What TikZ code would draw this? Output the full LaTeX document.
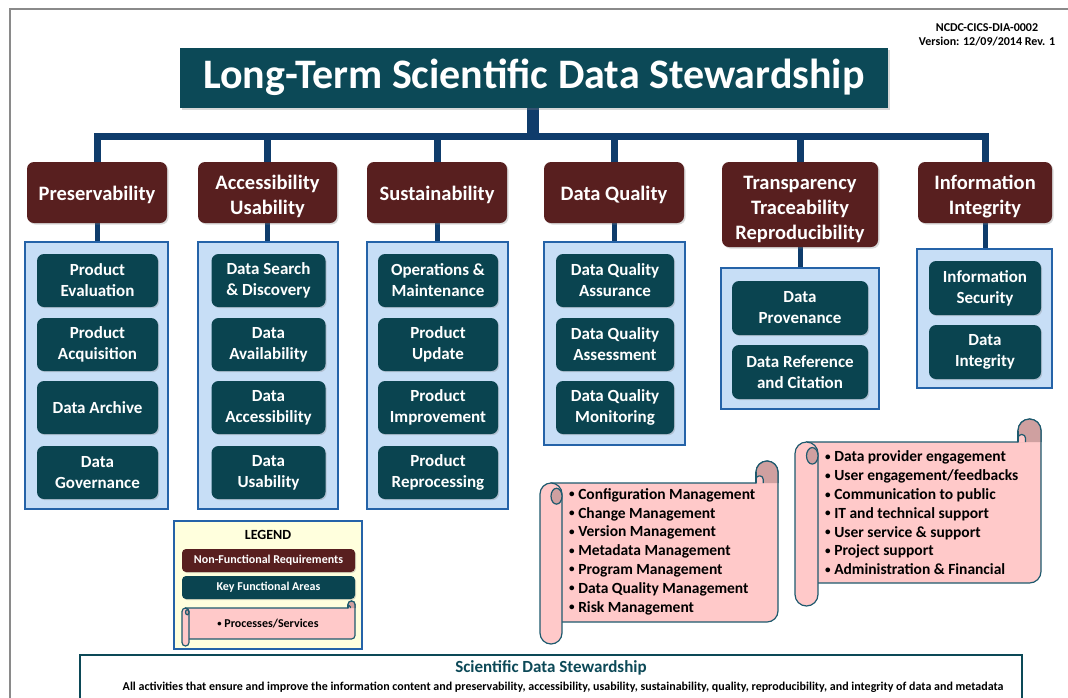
\documentclass[tikz,border=0pt]{standalone}
\usepackage{graphicx}
\usepackage{fontspec}
\setmainfont{Carlito}
\usetikzlibrary{shadows}
\definecolor{brownc}{HTML}{581F1F}
\definecolor{titlec}{HTML}{0C4957}
\definecolor{tealc}{HTML}{0A4450}
\definecolor{navyc}{HTML}{0F3C6B}
\definecolor{lbluec}{HTML}{C7DEF6}
\definecolor{bluec}{HTML}{2563A8}
\definecolor{pinkc}{HTML}{FFC9C9}
\definecolor{curlc}{HTML}{CFA0A0}
\definecolor{scrollb}{HTML}{1E5A6E}
\definecolor{legendc}{HTML}{FFFFDD}
\definecolor{framegray}{HTML}{8A8A8A}
\pgfdeclarelayer{bg}
\pgfsetlayers{bg,main}
\newcommand{\bul}{\raisebox{0.1em}{\scalebox{0.72}{•}}\ }
\newcommand{\cs}{\rule{0pt}{22.5pt}}
\newcommand{\myscroll}[5]{%
  % #1=x0 #2=y0 #3=x1 #4=y1 #5=r
  \filldraw[scrollst] ({#1+#5},#2) -- ({#3-2*#5},#2) -- ({#3-2*#5},{#2-#5})
     arc[start angle=180,end angle=0,radius=#5pt] -- (#3,{#4-#5})
     arc[start angle=0,end angle=-90,radius=#5pt] -- ({#1+#5},#4) -- cycle;
  \fill[curlc] ({#3-2*#5},#2) -- ({#3-2*#5},{#2-#5})
     arc[start angle=180,end angle=0,radius=#5pt] -- (#3,#2) -- cycle;
  \draw[scrollb, line width=1.2pt] ({#3-2*#5},#2) -- ({#3-2*#5},{#2-#5})
     arc[start angle=180,end angle=0,radius=#5pt] -- (#3,#2);
  \filldraw[scrollst, rounded corners=0.3*#5pt] ({#3-2*#5},#2) -- ({#3-2*#5},{#2-0.65*#5}) -- ({#3-1.35*#5},{#2-0.65*#5}) -- ({#3-1.35*#5},#2);
  \draw[scrollb, line width=1.2pt] ({#3-2*#5},#2) -- ({#3-2*#5},{#2-#5});
  \filldraw[scrollst, rounded corners=#5pt] (#1,#2) rectangle ({#1+2*#5},{#4+2*#5});
  \filldraw[scrollst, fill=curlc] ({#1+1.5*#5},{#2+1.2*#5}) ellipse[x radius=0.5*#5pt, y radius=0.72*#5pt];
}
\begin{document}
\begin{tikzpicture}[x=1pt,y=-1pt,
  catbox/.style={fill=brownc, rounded corners=7pt, text=white, align=center, inner sep=0pt,
     font=\fontsize{20.5}{25}\bfseries\selectfont,
     execute at begin node={\rule{0pt}{19.5pt}},
     drop shadow={opacity=0.3, shadow xshift=1.5pt, shadow yshift=-1.5pt}},
  kfabox/.style={fill=tealc, rounded corners=7pt, text=white, align=center, inner sep=0pt,
     font=\fontsize{17}{21}\bfseries\selectfont,
     drop shadow={opacity=0.3, shadow xshift=1.2pt, shadow yshift=-1.2pt}},
  contbox/.style={fill=lbluec, draw=bluec, line width=1.6pt, inner sep=0pt},
  titlebox/.style={fill=titlec, text=white, inner sep=0pt,
     font=\fontsize{42}{48}\bfseries\selectfont,
     drop shadow={opacity=0.3, shadow xshift=2pt, shadow yshift=-2pt}},
  stemline/.style={draw=navyc, line width=12pt},
  busline/.style={draw=navyc, line width=7pt},
  dropline/.style={draw=navyc, line width=5pt},
  scrollst/.style={fill=pinkc, draw=scrollb, line width=1.2pt},
  scrolltext/.style={anchor=west, align=left, inner sep=0pt, text=black,
     font=\fontsize{15.5}{18.8}\bfseries\selectfont},
]
\clip (0,0) rectangle (1068,697);
\begin{pgfonlayer}{bg}
\fill[white] (0,0) rectangle (1068,697);
\end{pgfonlayer}
\draw[framegray, line width=2.5pt] (10,9) rectangle (1100,730);

% header
\node[titlebox, minimum width=708, minimum height=60] (title) at (534,77.5) {Long-Term Scientific Data Stewardship};
\node[align=center, inner sep=0pt, font=\fontsize{12}{14.5}\bfseries\selectfont] (ref) at (987,35) {NCDC-CICS-DIA-0002\\Version: 12/09/2014 Rev. 1};

% categories
\node[catbox, minimum width=140, minimum height=61] (c1) at (97,192.5) {Preservability};
\node[catbox, minimum width=139, minimum height=61] (c2) at (267.5,192.5) {\cs Accessibility\\Usability};
\node[catbox, minimum width=140, minimum height=61] (c3) at (437,192.5) {Sustainability};
\node[catbox, minimum width=140, minimum height=61] (c4) at (614,192.5) {Data Quality};
\node[catbox, minimum width=156, minimum height=85] (c5) at (800,204.5) {\cs Transparency\\Traceability\\Reproducibility};
\node[catbox, minimum width=134, minimum height=61] (c6) at (985,192.5) {\cs Information\\Integrity};

% containers
\node[contbox, minimum width=143, minimum height=267] (k1) at (96.5,375.5) {};
\node[contbox, minimum width=140, minimum height=267] (k2) at (268,375.5) {};
\node[contbox, minimum width=141, minimum height=267] (k3) at (437.5,375.5) {};
\node[contbox, minimum width=141, minimum height=203] (k4) at (614.5,343.5) {};
\node[contbox, minimum width=158, minimum height=141] (k5) at (800,338.5) {};
\node[contbox, minimum width=135, minimum height=139] (k6) at (984.5,318.5) {};

% key functional areas
\node[kfabox, minimum width=121, minimum height=53] (a1) at (97.5,280.5) {Product\\Evaluation};
\node[kfabox, minimum width=121, minimum height=53] (a2) at (97.5,344.5) {Product\\Acquisition};
\node[kfabox, minimum width=121, minimum height=53] (a3) at (97.5,407.5) {Data Archive};
\node[kfabox, minimum width=121, minimum height=53] (a4) at (97.5,472.5) {Data\\Governance};

\node[kfabox, minimum width=114, minimum height=53] (b1) at (268.5,280.5) {Data Search\\\& Discovery};
\node[kfabox, minimum width=114, minimum height=53] (b2) at (268.5,344.5) {Data\\Availability};
\node[kfabox, minimum width=114, minimum height=53] (b3) at (268.5,407.5) {Data\\Accessibility};
\node[kfabox, minimum width=114, minimum height=53] (b4) at (268.5,472.5) {Data\\Usability};

\node[kfabox, minimum width=120, minimum height=53] (s1) at (438,280.5) {Operations \&\\Maintenance};
\node[kfabox, minimum width=120, minimum height=53] (s2) at (438,344.5) {Product\\Update};
\node[kfabox, minimum width=120, minimum height=53] (s3) at (438,407.5) {Product\\Improvement};
\node[kfabox, minimum width=120, minimum height=53] (s4) at (438,472.5) {Product\\Reprocessing};

\node[kfabox, minimum width=118, minimum height=53] (q1) at (615,280.5) {Data Quality\\Assurance};
\node[kfabox, minimum width=118, minimum height=53] (q2) at (615,344.5) {Data Quality\\Assessment};
\node[kfabox, minimum width=118, minimum height=53] (q3) at (615,407.5) {Data Quality\\Monitoring};

\node[kfabox, minimum width=136, minimum height=54] (t1) at (800,308) {Data\\Provenance};
\node[kfabox, minimum width=136, minimum height=54] (t2) at (800,372) {Data Reference\\and Citation};

\node[kfabox, minimum width=112, minimum height=54] (i1) at (985,288) {Information\\Security};
\node[kfabox, minimum width=112, minimum height=54] (i2) at (985,352) {Data\\Integrity};

% connectors
\coordinate (bj) at (533,136);
\begin{pgfonlayer}{bg}
\draw[stemline] (title.south -| bj) -- (bj);
\foreach \c in {c1,c2,c3,c4,c5,c6} {\draw[busline] (\c.north) |- (bj);}
\draw[dropline] (c1.south) -- (c1.south |- k1.north);
\draw[dropline] (c2.south) -- (c2.south |- k2.north);
\draw[dropline] (c3.south) -- (c3.south |- k3.north);
\draw[dropline] (c4.south) -- (c4.south |- k4.north);
\draw[dropline] (c5.south) -- (c5.south |- k5.north);
\draw[dropline] (c6.south) -- (c6.south |- k6.north);
\end{pgfonlayer}

% scrolls
\myscroll{540}{483}{778}{622}{11}
\node[scrolltext] (p1) at (569,551.5) {\bul Configuration Management\\\bul Change Management\\\bul Version Management\\\bul Metadata Management\\\bul Program Management\\\bul Data Quality Management\\\bul Risk Management};
\myscroll{795}{442}{1041}{583}{11.5}
\node[scrolltext] (p2) at (825,513) {\bul Data provider engagement\\\bul User engagement/feedbacks\\\bul Communication to public\\\bul IT and technical support\\\bul User service \& support\\\bul Project support\\\bul Administration \& Financial};

% legend
\node[fill=legendc, draw=bluec, line width=1.6pt, minimum width=188, minimum height=128, inner sep=0pt] (legend) at (268,585) {};
\node[font=\fontsize{14}{16}\bfseries\selectfont, inner sep=0pt] (lgt) at (268,535) {LEGEND};
\node[fill=brownc, rounded corners=4pt, text=white, minimum width=173, minimum height=23, inner sep=0pt,
   font=\fontsize{12}{14}\bfseries\selectfont, drop shadow={opacity=0.3, shadow xshift=1pt, shadow yshift=-1pt}] (lg1) at (268.5,560.5) {Non-Functional Requirements};
\node[fill=tealc, rounded corners=4pt, text=white, minimum width=173, minimum height=23, inner sep=0pt,
   font=\fontsize{12}{14}\bfseries\selectfont, drop shadow={opacity=0.3, shadow xshift=1pt, shadow yshift=-1pt}] (lg2) at (268.5,587.5) {Key Functional Areas};
\myscroll{182}{608}{355}{639}{3.5}
\node[inner sep=0pt, font=\fontsize{12}{14}\bfseries\selectfont] (lg3) at (268,623.5) {\bul Processes/Services};

% bottom definition box
\node[draw=titlec, line width=2pt, fill=white, minimum width=942, minimum height=60, inner sep=0pt] (def) at (551,685) {};
\node[inner sep=0pt, text=titlec, font=\fontsize{17}{20}\bfseries\selectfont] (deft) at (551,668) {Scientific Data Stewardship};
\node[inner sep=0pt, font=\fontsize{12}{14}\bfseries\selectfont] (defs) at (563,687) {All activities that ensure and improve the information content and preservability, accessibility, usability, sustainability, quality, reproducibility, and integrity of data and metadata};
\end{tikzpicture}
\end{document}
